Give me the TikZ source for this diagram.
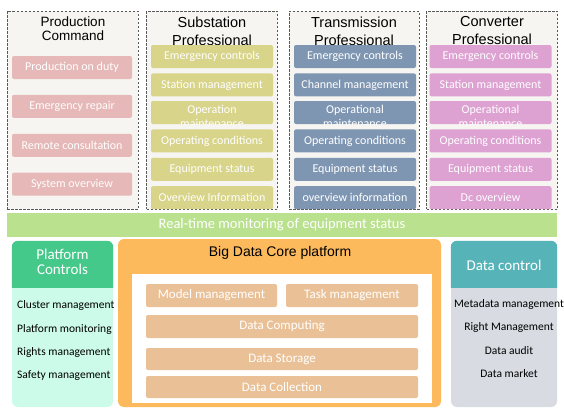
\documentclass[tikz,border=0pt]{standalone}
\usepackage{fontspec}
\setmainfont{Carlito}
\newfontfamily\headfont{Liberation Sans}
\usetikzlibrary{positioning}
\definecolor{colbg}{HTML}{F6F5F1}
\definecolor{prodpink}{HTML}{E6B8B7}
\definecolor{subolive}{HTML}{D8D48A}
\definecolor{transblue}{HTML}{7F96B2}
\definecolor{convpink}{HTML}{DDA1D2}
\definecolor{monigreen}{HTML}{B9E18E}
\definecolor{platgreen}{HTML}{45C98A}
\definecolor{platmint}{HTML}{CCFBEA}
\definecolor{coreorange}{HTML}{FDBA5D}
\definecolor{coretan}{HTML}{EAC197}
\definecolor{ctrlteal}{HTML}{56B3B7}
\definecolor{ctrlgrey}{HTML}{D8DCE2}
\tikzset{x=1pt, y=-1pt, node distance=5pt,
  column/.style={draw=black!65, fill=colbg, dash pattern=on 2.5pt off 1.5pt, minimum width=131pt, minimum height=198pt, inner sep=0pt},
  coltitle/.style={font=\headfont\fontsize{14.5}{18}\selectfont, align=center},
  item/.style={rounded corners=2pt, minimum width=122pt, minimum height=23pt, inner sep=0pt, text=white, font=\fontsize{12}{12}\selectfont},
  clipped/.style={item, path picture={\node[anchor=center, yshift=-4pt, text=white, align=center, font=\fontsize{12}{14}\selectfont] at (path picture bounding box.center) {#1};}},
  coreitem/.style={fill=coretan, rounded corners=2pt, minimum height=23pt, inner sep=0pt, text=white, font=\fontsize{13}{14}\selectfont},
  listitem/.style={font=\fontsize{11.5}{12}\selectfont, inner sep=0pt}
}
\begin{document}
\begin{tikzpicture}
  \useasboundingbox (0,0) rectangle (564,408);
  % top columns
  \node[column] (prodcol) at (72.5,110) {};
  \node[column] (subcol) at (212,110) {};
  \node[column, minimum width=130pt] (transcol) at (354,110) {};
  \node[column] (convcol) at (492,110) {};
  \node[coltitle, font=\headfont\fontsize{13.5}{14}\selectfont] (prodtitle) at (73,29) {Production\\Command};
  \node[coltitle] (subtitle) at (212,31) {Substation\\Professional};
  \node[coltitle] (transtitle) at (354,31) {Transmission\\Professional};
  \node[coltitle] (convtitle) at (492,31) {Converter\\Professional};

  \node[item, fill=prodpink, minimum width=120pt] (prod1) at (72,67.5) {Production on duty};
  \node[item, fill=prodpink, minimum width=120pt, below=15.5pt of prod1] (prod2) {Emergency repair};
  \node[item, fill=prodpink, minimum width=120pt, below=15.5pt of prod2] (prod3) {Remote consultation};
  \node[item, fill=prodpink, minimum width=120pt, below=15.5pt of prod3] (prod4) {System overview};

  \node[item, fill=subolive] (sub1) at (212,56.5) {Emergency controls};
  \node[item, fill=subolive, below=of sub1] (sub2) {Station management};
  \node[clipped={Operation\\maintenance}, fill=subolive] (sub3) at (212,112.5) {};
  \node[item, fill=subolive, below=of sub3] (sub4) {Operating conditions};
  \node[item, fill=subolive, below=of sub4] (sub5) {Equipment status};
  \node[item, fill=subolive, below=of sub5] (sub6) {Overview Information};

  \node[item, fill=transblue] (trans1) at (355,56.5) {Emergency controls};
  \node[item, fill=transblue, below=of trans1] (trans2) {Channel management};
  \node[clipped={Operational\\maintenance}, fill=transblue] (trans3) at (355,112.5) {};
  \node[item, fill=transblue, below=of trans3] (trans4) {Operating conditions};
  \node[item, fill=transblue, below=of trans4] (trans5) {Equipment status};
  \node[item, fill=transblue, below=of trans5] (trans6) {overview information};

  \node[item, fill=convpink] (conv1) at (490.5,56.5) {Emergency controls};
  \node[item, fill=convpink, below=of conv1] (conv2) {Station management};
  \node[clipped={Operational\\maintenance}, fill=convpink] (conv3) at (490.5,112.5) {};
  \node[item, fill=convpink, below=of conv3] (conv4) {Operating conditions};
  \node[item, fill=convpink, below=of conv4] (conv5) {Equipment status};
  \node[item, fill=convpink, below=of conv5] (conv6) {Dc overview};

  % monitoring bar
  \node[fill=monigreen, minimum width=550pt, minimum height=24pt, inner sep=0pt, text=white, font=\fontsize{14.5}{15}\selectfont] (monitor) at (282,225) {Real-time monitoring of equipment status};

  % platform controls
  \node[fill=platmint, rounded corners=6pt, minimum width=101pt, minimum height=166pt, inner sep=0pt] (platbody) at (62.5,324) {};
  \fill[platgreen] ([yshift=-47pt]platbody.north west) [rounded corners=6pt] |- (platbody.north east) [sharp corners] -- ([yshift=-47pt]platbody.north east) -- cycle;
  \node[text=white, align=center, font=\fontsize{15}{15}\selectfont] (plattitle) at (62.5,261.5) {Platform\\Controls};
  \node[listitem, anchor=west] (plat1) at (17,305) {Cluster management};
  \node[listitem, anchor=west] (plat2) at (17,329) {Platform monitoring};
  \node[listitem, anchor=west] (plat3) at (17,352) {Rights management};
  \node[listitem, anchor=west] (plat4) at (17,376) {Safety management};

  % big data core
  \node[fill=coreorange, rounded corners=6pt, minimum width=323pt, minimum height=168pt, inner sep=0pt] (core) at (279.5,323) {};
  \node[fill=white, minimum width=300pt, minimum height=129pt, inner sep=0pt] (coreinner) at (282,338.5) {};
  \node[font=\headfont\fontsize{14}{15}\selectfont] (coretitle) at (280,253) {Big Data Core platform};
  \node[coreitem, minimum width=131pt] (model) at (211.5,295.5) {Model management};
  \node[coreitem, minimum width=132pt] (task) at (352,295.5) {Task management};
  \node[coreitem, minimum width=272pt] (computing) at (282,326.5) {Data Computing};
  \node[coreitem, minimum width=272pt, minimum height=22pt] (storage) at (282,359) {Data Storage};
  \node[coreitem, minimum width=272pt, minimum height=22pt] (collection) at (282,387) {Data Collection};

  % data control
  \node[fill=ctrlgrey, rounded corners=6pt, minimum width=106pt, minimum height=166pt, inner sep=0pt] (ctrlbody) at (504,324) {};
  \fill[ctrlteal] ([yshift=-47pt]ctrlbody.north west) [rounded corners=6pt] |- (ctrlbody.north east) [sharp corners] -- ([yshift=-47pt]ctrlbody.north east) -- cycle;
  \node[text=white, font=\fontsize{15}{15}\selectfont] (ctrltitle) at (504,265) {Data control};
  \node[listitem] (ctrl1) at (509,304) {Metadata management};
  \node[listitem] (ctrl2) at (509,327) {Right Management};
  \node[listitem] (ctrl3) at (509,351) {Data audit};
  \node[listitem] (ctrl4) at (509,374) {Data market};
\end{tikzpicture}
\end{document}
